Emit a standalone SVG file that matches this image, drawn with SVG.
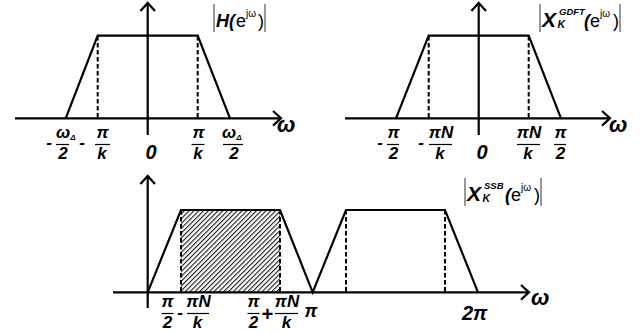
<svg xmlns="http://www.w3.org/2000/svg" width="642" height="334" viewBox="0 0 642 334">
<defs>
<style>
.ln{fill:none;stroke:#000;stroke-width:2.2;stroke-linejoin:miter}
.ds{fill:none;stroke:#000;stroke-width:2;stroke-dasharray:4.5 2.5}
.bar{stroke:#000;stroke-width:1.2}
.abs{stroke:#555;stroke-width:1.2}
.t{font-family:"Liberation Sans",Arial,sans-serif;font-weight:bold;font-style:italic;fill:#000}
.f{font-size:17px}
.ax{font-size:22px}
.z{font-size:20px}
.r{font-weight:normal;font-style:normal}
</style>
<pattern id="hatch" patternUnits="userSpaceOnUse" width="3.4" height="10" patternTransform="rotate(45)">
<line x1="0.6" y1="0" x2="0.6" y2="10" stroke="#000" stroke-width="1"/>
</pattern>
</defs>
<g id="connectors">
<polyline class="ln" points="15,118.3 281,118.3"/>
<polyline class="ln" points="273,111 281,118.3 273,125.6"/>
<polyline class="ln" points="147.7,135 147.7,3"/>
<polyline class="ln" points="140.4,11 147.7,3 155,11"/>
<polyline class="ln" points="345,118.3 610,118.3"/>
<polyline class="ln" points="602,111 610,118.3 602,125.6"/>
<polyline class="ln" points="478.7,135 478.7,3"/>
<polyline class="ln" points="471.4,11 478.7,3 486,11"/>
<polyline class="ln" points="113,292.3 529,292.3"/>
<polyline class="ln" points="521,285 529,292.3 521,299.6"/>
<polyline class="ln" points="147.7,308 147.7,176"/>
<polyline class="ln" points="140.4,184 147.7,176 155,184"/>
</g>
<g id="plot-h">
<polyline class="ln" points="65.7,118.3 97.7,35.7 197.7,35.7 230,118.3"/>
<line class="ds" x1="97.7" y1="36" x2="97.7" y2="118"/>
<line class="ds" x1="197.7" y1="36" x2="197.7" y2="118"/>
<line class="abs" x1="214" y1="4" x2="214" y2="32"/>
<line class="abs" x1="265" y1="4" x2="265" y2="32"/>
<text class="t" x="216" y="27" font-size="18">H(</text>
<text class="t r" x="236" y="27" font-size="18">e</text>
<text class="t r" x="246" y="17" font-size="10">jω</text>
<text class="t r" x="258" y="27" font-size="18">)</text>
<text class="t ax" x="277" y="132">ω</text>
</g>
<g id="labels-h">
<text class="t f" x="49" y="148" text-anchor="middle">-</text>
<text class="t f" x="56" y="138">ω<tspan font-size="8" dy="2">Δ</tspan></text>
<line class="bar" x1="56" y1="144.5" x2="69" y2="144.5"/>
<text class="t f" x="63" y="159" text-anchor="middle">2</text>
<text class="t f" x="82" y="148" text-anchor="middle">-</text>
<text class="t f" x="102.5" y="138" text-anchor="middle">π</text>
<line class="bar" x1="95" y1="144.5" x2="110" y2="144.5"/>
<text class="t f" x="102" y="159" text-anchor="middle">k</text>
<text class="t z" x="151" y="159" text-anchor="middle">0</text>
<text class="t f" x="198.5" y="138" text-anchor="middle">π</text>
<line class="bar" x1="191.5" y1="144.5" x2="204.5" y2="144.5"/>
<text class="t f" x="198" y="159" text-anchor="middle">k</text>
<text class="t f" x="222" y="138">ω<tspan font-size="8" dy="2">Δ</tspan></text>
<line class="bar" x1="223" y1="144.5" x2="243" y2="144.5"/>
<text class="t f" x="234" y="159" text-anchor="middle">2</text>
</g>
<g id="plot-gdft">
<polyline class="ln" points="396,118.3 428.7,35.7 528.7,35.7 561,118.3"/>
<line class="ds" x1="428.7" y1="36" x2="428.7" y2="118"/>
<line class="ds" x1="528.7" y1="36" x2="528.7" y2="118"/>
<line class="abs" x1="540" y1="4" x2="540" y2="32"/>
<line class="abs" x1="620" y1="4" x2="620" y2="32"/>
<text class="t" x="542" y="27" font-size="21">X</text>
<text class="t" x="559" y="15" font-size="9.5">GDFT</text>
<text class="t" x="557.5" y="27.5" font-size="10.5">K</text>
<text class="t" x="584" y="27" font-size="18">(</text>
<text class="t r" x="590" y="27" font-size="18">e</text>
<text class="t r" x="600" y="17" font-size="10">jω</text>
<text class="t r" x="613" y="27" font-size="18">)</text>
<text class="t ax" x="609" y="132">ω</text>
</g>
<g id="labels-gdft">
<text class="t f" x="380" y="148" text-anchor="middle">-</text>
<text class="t f" x="393.5" y="138" text-anchor="middle">π</text>
<line class="bar" x1="387" y1="144.5" x2="399" y2="144.5"/>
<text class="t f" x="393.5" y="159" text-anchor="middle">2</text>
<text class="t f" x="421" y="148" text-anchor="middle">-</text>
<text class="t f" x="441" y="138" text-anchor="middle">πN</text>
<line class="bar" x1="429" y1="144.5" x2="452" y2="144.5"/>
<text class="t f" x="440" y="159" text-anchor="middle">k</text>
<text class="t z" x="482" y="159" text-anchor="middle">0</text>
<text class="t f" x="529" y="138" text-anchor="middle">πN</text>
<line class="bar" x1="517" y1="144.5" x2="540" y2="144.5"/>
<text class="t f" x="528" y="159" text-anchor="middle">k</text>
<text class="t f" x="560.5" y="138" text-anchor="middle">π</text>
<line class="bar" x1="554" y1="144.5" x2="566" y2="144.5"/>
<text class="t f" x="560.5" y="159" text-anchor="middle">2</text>
</g>
<g id="plot-ssb">
<rect x="181" y="210" width="99" height="82.3" fill="url(#hatch)"/>
<polyline class="ln" points="147.7,292.3 181,210 280,210 312.7,292.3 346,210 445,210 478,292.3"/>
<line class="ds" x1="181" y1="210" x2="181" y2="292"/>
<line class="ds" x1="280" y1="210" x2="280" y2="292"/>
<line class="ds" x1="346" y1="210" x2="346" y2="292"/>
<line class="ds" x1="445" y1="210" x2="445" y2="292"/>
<line class="abs" x1="465" y1="178" x2="465" y2="206"/>
<line class="abs" x1="541" y1="178" x2="541" y2="206"/>
<text class="t" x="467" y="201" font-size="21">X</text>
<text class="t" x="484" y="189" font-size="9.5">SSB</text>
<text class="t" x="482.5" y="201.5" font-size="10.5">K</text>
<text class="t" x="505" y="201" font-size="18">(</text>
<text class="t r" x="511" y="201" font-size="18">e</text>
<text class="t r" x="521" y="191" font-size="10">jω</text>
<text class="t r" x="534" y="201" font-size="18">)</text>
<text class="t ax" x="531" y="305">ω</text>
</g>
<g id="labels-ssb">
<text class="t f" x="167.5" y="307" text-anchor="middle">π</text>
<line class="bar" x1="161.5" y1="313.5" x2="173.5" y2="313.5"/>
<text class="t f" x="167.5" y="328" text-anchor="middle">2</text>
<text class="t f" x="180" y="318" text-anchor="middle">-</text>
<text class="t f" x="198.5" y="307" text-anchor="middle">πN</text>
<line class="bar" x1="187" y1="313.5" x2="209" y2="313.5"/>
<text class="t f" x="197.5" y="328" text-anchor="middle">k</text>
<text class="t f" x="253.5" y="307" text-anchor="middle">π</text>
<line class="bar" x1="247.5" y1="313.5" x2="259.5" y2="313.5"/>
<text class="t f" x="253.5" y="328" text-anchor="middle">2</text>
<text class="t" x="267" y="321" font-size="20" text-anchor="middle" font-style="normal">+</text>
<text class="t f" x="287" y="307" text-anchor="middle">πN</text>
<line class="bar" x1="275" y1="313.5" x2="298" y2="313.5"/>
<text class="t f" x="286.5" y="328" text-anchor="middle">k</text>
<text class="t" x="311" y="317" font-size="18" text-anchor="middle">π</text>
<text class="t z" x="462" y="320">2π</text>
</g>
</svg>
